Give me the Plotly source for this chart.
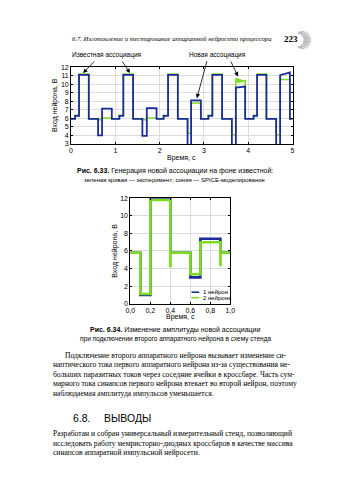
import math
import plotly.graph_objects as go

W, H = 350, 499

# ---------------- data: Fig. 6.33 ----------------
# SPICE model (blue): segment breakpoints, level at start / end of each segment
spice_t = [0.00, 0.09, 0.18, 0.40, 0.61, 0.70, 0.92, 1.09, 1.18, 1.40, 1.61, 1.71,
           1.93, 2.09, 2.19, 2.41, 2.63, 2.71, 2.93, 3.10, 3.19, 3.41, 3.63, 3.72,
           3.93, 4.12, 4.20, 4.41, 4.63, 4.72, 4.94, 5.00]
spice_v0 = [5.95, 6.3, 11.1, 5.95, 4.0, 7.15, 5.95, 6.3, 11.1, 5.95, 3.95, 7.2,
            5.95, 6.3, 11.1, 5.95, 2.0, 8.1, 5.95, 6.3, 11.1, 5.95, 2.0, 9.6,
            5.95, 6.3, 11.1, 5.95, 2.0, 11.05, 5.95]
spice_v1 = [5.95, 6.3, 11.1, 5.95, 4.0, 7.15, 5.95, 6.3, 11.1, 5.95, 3.95, 7.2,
            5.95, 6.3, 11.1, 5.95, 2.0, 8.1, 5.95, 6.3, 11.1, 5.95, 2.0, 9.72,
            5.95, 6.3, 11.1, 5.95, 2.0, 11.38, 5.95]

# Experiment (green): step levels
exp_t = [0.00, 0.09, 0.18, 0.40, 0.61, 0.70, 0.92, 1.09, 1.18, 1.40, 1.61, 1.71,
         1.93, 2.09, 2.19, 2.41, 2.63, 2.71, 2.93, 3.10, 3.19, 3.41, 3.63, 3.72,
         3.76, 3.79, 3.82, 3.86, 3.93, 4.12, 4.20, 4.41, 4.63, 4.72, 4.94, 5.00]
exp_v = [5.95, 6.35, 11.2, 5.95, 5.85, 6.05, 5.95, 6.35, 11.2, 5.95, 5.85, 6.05,
         5.95, 6.35, 11.2, 5.95, 4.25, 7.8, 5.95, 6.35, 11.2, 5.95, 4.05,
         10.6, 10.25, 10.5, 10.3, 10.4, 5.95, 6.35, 11.2, 5.95, 4.05, 10.55, 5.95]

x1_ticks = [0, 1, 2, 3, 4, 5]
y1_ticks = [3, 4, 5, 6, 7, 8, 9, 10, 11, 12]

# ---------------- data: Fig. 6.34 ----------------
n1_t = [0.0, 0.1, 0.2, 0.4, 0.6, 0.7, 0.9, 1.0]
n1_v = [5.8, 1.0, 11.95, 5.8, 3.0, 7.4, 5.8, 5.8]
n2_t = [0.0, 0.1, 0.2, 0.4, 0.402, 0.6, 0.7, 0.9, 0.902, 1.0]
n2_v = [5.8, 1.1, 11.8, 4.3, 5.8, 3.35, 7.0, 4.4, 5.8, 5.8]
series_names = ["1 нейрон", "2 нейрона"]
x2_ticks = [0.0, 0.2, 0.4, 0.6, 0.8, 1.0]
y2_ticks = [0, 2, 4, 6, 8, 10, 12]

BLUE = "#1c2c9c"
GREEN = "#7ddc22"
SANS = "Liberation Sans, Arial, sans-serif"
SERIF = "Liberation Serif, Times New Roman, serif"


def px(x):
    return x / W


def py(y):
    return 1 - y / H


# plot areas in page pixels
P1 = dict(l=68, r=296, t=64, b=142)
P2 = dict(l=129, r=232, t=197, b=304)


def seg_line(t, v0, v1):
    xs, ys = [], []
    for i in range(len(v0)):
        xs += [t[i], t[i + 1]]
        ys += [v0[i], v1[i]]
    return xs, ys


fig = go.Figure()

# Fig 6.33
fig.add_trace(go.Scatter(x=exp_t, y=exp_v + [exp_v[-1]], mode="lines", line_shape="hv",
                         line=dict(color=GREEN, width=1.6), xaxis="x", yaxis="y",
                         showlegend=False, name="эксперимент"))
bx, by = seg_line(spice_t, spice_v0, spice_v1)
fig.add_trace(go.Scatter(x=bx, y=by, mode="lines",
                         line=dict(color=BLUE, width=1.8), xaxis="x", yaxis="y",
                         showlegend=False, name="SPICE"))

# Fig 6.34
fig.add_trace(go.Scatter(x=n1_t, y=n1_v, mode="lines", line_shape="hv",
                         line=dict(color=BLUE, width=2.6), xaxis="x2", yaxis="y2",
                         showlegend=False, name=series_names[0]))
fig.add_trace(go.Scatter(x=n2_t, y=n2_v, mode="lines", line_shape="hv",
                         line=dict(color=GREEN, width=2.6), xaxis="x2", yaxis="y2",
                         showlegend=False, name=series_names[1]))

axis_common = dict(showline=True, linecolor="black", linewidth=0.8, mirror="ticks",
                   ticks="inside", ticklen=2, tickcolor="black", tickwidth=0.6,
                   showgrid=True, gridcolor="#dcdcdc", gridwidth=0.6, zeroline=False,
                   tickfont=dict(family=SANS, size=7, color="black"), fixedrange=True)

fig.update_layout(
    width=W, height=H, autosize=False,
    margin=dict(l=0, r=0, t=0, b=0, pad=0),
    paper_bgcolor="white", plot_bgcolor="white",
    separators=", ",
    xaxis=dict(domain=[px(P1["l"]), px(P1["r"])], range=[0, 5], tickvals=x1_ticks,
               anchor="y", **axis_common),
    yaxis=dict(domain=[py(P1["b"]), py(P1["t"])], range=[3, 12], tickvals=y1_ticks,
               anchor="x", **axis_common),
    xaxis2=dict(domain=[px(P2["l"]), px(P2["r"])], range=[0, 1], tickvals=x2_ticks,
                tickformat=".1f", anchor="y2", **axis_common),
    yaxis2=dict(domain=[py(P2["b"]), py(P2["t"])], range=[0, 12], tickvals=y2_ticks,
                anchor="x2", **axis_common),
)

ann = []


def text(x, y, s, size=7, family=SANS, xanchor="center", color="black", angle=0):
    ann.append(dict(x=px(x), y=py(y), xref="paper", yref="paper", text=s, showarrow=False,
                    xanchor=xanchor, yanchor="middle", textangle=angle,
                    font=dict(family=family, size=size, color=color)))


def d2p1(t, v):
    return (P1["l"] + (P1["r"] - P1["l"]) * t / 5.0,
            P1["b"] - (P1["b"] - P1["t"]) * (v - 3) / 9.0)


def arrow(t, v, tail_x, tail_y):
    hx, hy = d2p1(t, v)
    ann.append(dict(x=t, y=v, xref="x", yref="y", text="", showarrow=True,
                    ax=tail_x - hx, ay=tail_y - hy, axref="pixel", ayref="pixel",
                    arrowhead=2, arrowsize=1.1, arrowwidth=0.8, arrowcolor="black"))


# header
text(277, 35, "<i>6.7. Изготовление и тестирование аппаратной нейросети процессора</i>",
     size=6.6, family=SERIF, xanchor="right")
text(294, 35, "<b>223</b>", size=9, family=SERIF)

# fig 6.33 annotations
text(105, 52, "Известная ассоциация", size=6.5)
text(219, 52, "Новая ассоциация", size=6.5)
arrow(0.27, 11.3, 93, 57)
arrow(1.33, 11.3, 120, 57)
arrow(2.84, 8.35, 208, 57)
arrow(3.77, 10.9, 232, 57)
text(51, 103, "Вход нейрона, В", size=7, angle=-90)
text(182, 156, "Время, с", size=7)
text(175, 169.5, "<b>Рис. 6.33.</b> Генерация новой ассоциации на фоне известной:", size=7)
text(175, 179, "зеленая кривая — эксперимент; синяя — SPICE-моделирование", size=6)

# fig 6.34
text(113, 250.5, "Вход нейрона, В", size=7, angle=-90)
text(180.5, 317.5, "Время, с", size=7)
text(175, 331, "<b>Рис. 6.34.</b> Изменение амплитуды новой ассоциации", size=7)
text(175, 339.5, "при подключении второго аппаратного нейрона в схему стенда", size=6.5)

# manual legend
shapes = []
for i, (name, col) in enumerate(zip(series_names, [BLUE, GREEN])):
    yy = 292.3 + 5.6 * i
    shapes.append(dict(type="line", xref="paper", yref="paper", x0=px(192), x1=px(200),
                       y0=py(yy), y1=py(yy), line=dict(color=col, width=1.6)))
    text(202, yy, name, size=6, xanchor="left")

# body text
para1 = ["Подключение второго аппаратного нейрона вызывает изменение си-",
         "наптического тока первого аппаратного нейрона из-за существования не-",
         "больших паразитных токов через соседние ячейки в кроссбаре. Часть сум-",
         "марного тока синапсов первого нейрона втекает во второй нейрон, поэтому",
         "наблюдаемая амплитуда импульсов уменьшается."]
for i, line in enumerate(para1):
    text(60 if i == 0 else 47, 356.5 + 9.6 * i, line, size=7.6, family=SERIF, xanchor="left")

text(68, 420, "6.8.", size=10.5, xanchor="left")
text(100, 420, "ВЫВОДЫ", size=10.5, xanchor="left")

para2 = ["Разработан и собран универсальный измерительный стенд, позволяющий",
         "исследовать работу мемристорно-диодных кроссбаров в качестве массива",
         "синапсов аппаратной импульсной нейросети."]
for i, line in enumerate(para2):
    text(47, 436 + 9.5 * i, line, size=7.6, family=SERIF, xanchor="left")

# page ornament next to page number
cx, cy = 301, 36.5
for k in range(23):
    a = math.radians(-84 + k * 168 / 22)
    r0 = 6.5
    r1 = 6.5 + 7.5 * math.cos(a) ** 0.8
    shapes.append(dict(type="line", xref="paper", yref="paper",
                       x0=px(cx + r0 * math.cos(a)), y0=py(cy + r0 * math.sin(a)),
                       x1=px(cx + r1 * math.cos(a)), y1=py(cy + r1 * math.sin(a)),
                       line=dict(color="#8a8a8a", width=0.7)))

fig.update_layout(annotations=ann, shapes=shapes)
fig.write_html("out.html")
